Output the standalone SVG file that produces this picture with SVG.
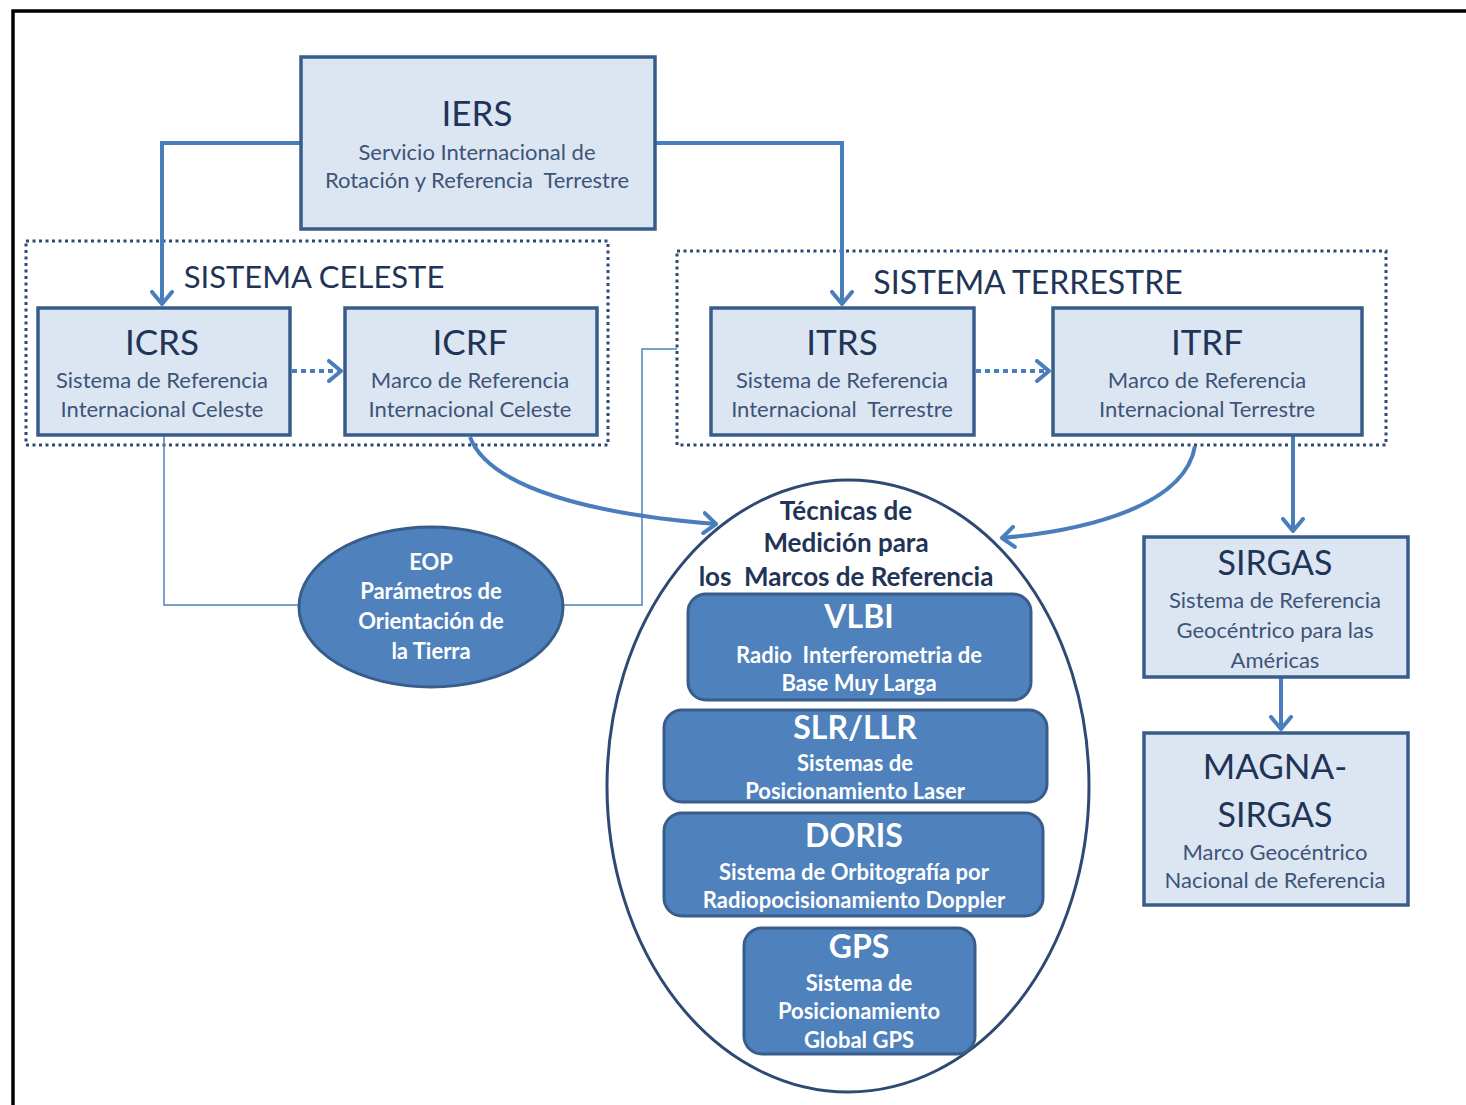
<svg xmlns="http://www.w3.org/2000/svg" width="1466" height="1105" viewBox="0 0 1466 1105">
<defs>
<marker id="ah" markerUnits="userSpaceOnUse" viewBox="0 0 16 24" markerWidth="16" markerHeight="24" refX="14" refY="12" orient="auto">
<path d="M2,2 L14,12 L2,22" fill="none" stroke="#4a7dbb" stroke-width="4" stroke-linecap="round" stroke-linejoin="round"/>
</marker>
</defs>
<style>
.lbox{fill:#dce6f2;stroke:#385d8a;stroke-width:3.5}
.dbox{fill:#4f81bd;stroke:#385d8a;stroke-width:3}
.grp{fill:none;stroke:#2e4a72;stroke-width:3;stroke-dasharray:3 3.5}
.t{font-family:Lato,"Open Sans",sans-serif;text-anchor:middle}
.h{font-size:35px;fill:#1f3457}
.s{font-size:22px;fill:#3d5478}
.w{fill:#ffffff;font-weight:bold}
.k{fill:#1f3457;font-weight:bold;font-size:26px}
.con{fill:none;stroke:#4a7dbb;stroke-width:4}
.thin{fill:none;stroke:#4f81bd;stroke-width:1.5}
</style>
<rect x="0" y="0" width="1466" height="1105" fill="#ffffff"/>
<path d="M13,1105 L13,11 L1466,11" fill="none" stroke="#000" stroke-width="3.5"/>
<g id="grp-celeste">
<rect class="grp" x="26" y="241" width="582" height="204"/>
<text class="t" x="314" y="288" font-size="31" fill="#1f3457">SISTEMA CELESTE</text>
</g>
<g id="grp-terrestre">
<rect class="grp" x="677" y="251" width="709" height="194"/>
<text class="t" x="1028" y="294" font-size="32" fill="#1f3457">SISTEMA TERRESTRE</text>
</g>
<g id="connectors">
<path class="thin" d="M164,436 L164,605 L300,605"/>
<path class="thin" d="M563,605 L642,605 L642,349 L677,349"/>
<path class="con" d="M300,143 L162,143 L162,304" marker-end="url(#ah)"/>
<path class="con" d="M655,143 L842,143 L842,304" marker-end="url(#ah)"/>
<path class="con" d="M292,371 L341,371" stroke-dasharray="5 4" marker-end="url(#ah)"/>
<path class="con" d="M976,371 L1049,371" stroke-dasharray="5 4" marker-end="url(#ah)"/>
<path class="con" d="M470,437 C490,490 600,515 716,524" marker-end="url(#ah)"/>
<path class="con" d="M1195,446 C1185,505 1090,530 1002,538" marker-end="url(#ah)"/>
<path class="con" d="M1293,436 L1293,531" marker-end="url(#ah)"/>
<path class="con" d="M1281,678 L1281,729" marker-end="url(#ah)"/>
</g>
<g id="iers">
<rect class="lbox" x="301" y="57" width="354" height="172"/>
<text class="t h" x="477" y="126">IERS</text>
<text class="t s" x="477" y="160">Servicio Internacional de</text>
<text class="t s" x="477" y="188">Rotación y Referencia&#160; Terrestre</text>
</g>
<g id="icrs">
<rect class="lbox" x="38" y="308" width="252" height="127"/>
<text class="t h" x="162" y="355">ICRS</text>
<text class="t s" x="162" y="388">Sistema de Referencia</text>
<text class="t s" x="162" y="417">Internacional Celeste</text>
</g>
<g id="icrf">
<rect class="lbox" x="345" y="308" width="252" height="127"/>
<text class="t h" x="470" y="355">ICRF</text>
<text class="t s" x="470" y="388">Marco de Referencia</text>
<text class="t s" x="470" y="417">Internacional Celeste</text>
</g>
<g id="itrs">
<rect class="lbox" x="711" y="308" width="263" height="127"/>
<text class="t h" x="842" y="355">ITRS</text>
<text class="t s" x="842" y="388">Sistema de Referencia</text>
<text class="t s" x="842" y="417">Internacional&#160; Terrestre</text>
</g>
<g id="itrf">
<rect class="lbox" x="1053" y="308" width="309" height="127"/>
<text class="t h" x="1207" y="355">ITRF</text>
<text class="t s" x="1207" y="388">Marco de Referencia</text>
<text class="t s" x="1207" y="417">Internacional Terrestre</text>
</g>
<g id="sirgas">
<rect class="lbox" x="1144" y="537" width="264" height="140"/>
<text class="t" x="1275" y="575" font-size="34" fill="#1f3457">SIRGAS</text>
<text class="t s" x="1275" y="608">Sistema de Referencia</text>
<text class="t s" x="1275" y="638">Geocéntrico para las</text>
<text class="t s" x="1275" y="668">Américas</text>
</g>
<g id="magna">
<rect class="lbox" x="1144" y="733" width="264" height="172"/>
<text class="t" x="1275" y="779" font-size="35" fill="#1f3457">MAGNA-</text>
<text class="t" x="1275" y="827" font-size="34" fill="#1f3457">SIRGAS</text>
<text class="t s" x="1275" y="860">Marco Geocéntrico</text>
<text class="t s" x="1275" y="888">Nacional de Referencia</text>
</g>
<g id="eop">
<ellipse class="dbox" cx="431" cy="607" rx="132" ry="80"/>
<text class="t w" x="431" y="570" font-size="22">EOP</text>
<text class="t w" x="431" y="599" font-size="22">Parámetros de</text>
<text class="t w" x="431" y="629" font-size="22">Orientación de</text>
<text class="t w" x="431" y="659" font-size="22">la Tierra</text>
</g>
<g id="tecnicas">
<ellipse cx="848" cy="786" rx="241" ry="306" fill="#ffffff" stroke="#2e4a72" stroke-width="3"/>
<text class="t k" x="846" y="520">Técnicas de</text>
<text class="t k" x="846" y="552">Medición para</text>
<text class="t k" x="846" y="586">los&#160; Marcos de Referencia</text>
</g>
<g id="vlbi">
<rect class="dbox" x="688" y="594" width="343" height="106" rx="18"/>
<text class="t w" x="859" y="628" font-size="32">VLBI</text>
<text class="t w" x="859" y="663" font-size="22">Radio&#160; Interferometria de</text>
<text class="t w" x="859" y="691" font-size="22">Base Muy Larga</text>
</g>
<g id="slr">
<rect class="dbox" x="664" y="710" width="383" height="92" rx="18"/>
<text class="t w" x="855" y="739" font-size="32">SLR/LLR</text>
<text class="t w" x="855" y="771" font-size="22">Sistemas de</text>
<text class="t w" x="855" y="799" font-size="22">Posicionamiento Laser</text>
</g>
<g id="doris">
<rect class="dbox" x="664" y="813" width="379" height="103" rx="18"/>
<text class="t w" x="854" y="847" font-size="32">DORIS</text>
<text class="t w" x="854" y="880" font-size="22">Sistema de Orbitografía por</text>
<text class="t w" x="854" y="908" font-size="22">Radiopocisionamiento Doppler</text>
</g>
<g id="gps">
<rect class="dbox" x="744" y="928" width="231" height="126" rx="18"/>
<text class="t w" x="859" y="958" font-size="32">GPS</text>
<text class="t w" x="859" y="991" font-size="22">Sistema de</text>
<text class="t w" x="859" y="1019" font-size="22">Posicionamiento</text>
<text class="t w" x="859" y="1048" font-size="22">Global GPS</text>
</g>
</svg>
